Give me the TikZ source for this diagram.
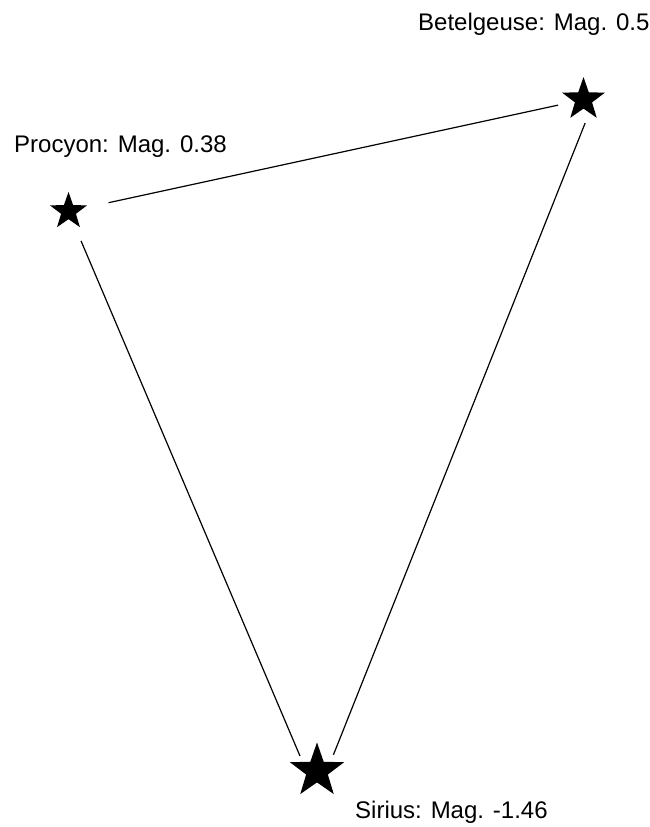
\documentclass[tikz,border=0pt]{standalone}
\usepackage{fontspec}
\setmainfont{Liberation Sans}
\usetikzlibrary{shapes.geometric}

\begin{document}
\begin{tikzpicture}[x=1pt,y=-1pt,
  starpt/.style={star,star points=5,star point ratio=2.5,fill=black,draw=none,inner sep=0pt},
  starlbl/.style={anchor=base west,inner sep=0pt,font=\fontsize{24}{28}\selectfont},
  segline/.style={line width=1.2pt,color=black}]
\useasboundingbox (0,0) rectangle (650,827);

\node[starpt,minimum size=39pt] (Procyon) at (68.5,211.4) {};
\node[starpt,minimum size=45pt] (Betelgeuse) at (583.5,99.6) {};
\node[starpt,minimum size=57pt] (Sirius) at (317,771) {};

\node[starlbl] (ProcyonLbl) at (14,152) {Procyon: Mag. 0.38};
\node[starlbl] (BetelgeuseLbl) at (418,30) {Betelgeuse: Mag. 0.5};
\node[starlbl] (SiriusLbl) at (355,818) {Sirius: Mag. -1.46};

\draw[segline,shorten <=41pt,shorten >=26pt] (Procyon.center) -- (Betelgeuse.center);
\draw[segline,shorten <=32pt,shorten >=43.5pt] (Procyon.center) -- ([yshift=-25pt]Sirius.center);
\draw[segline,shorten <=25.3pt,shorten >=44.4pt] ([xshift=11pt]Betelgeuse.center) -- ([yshift=-25pt]Sirius.center);

\end{tikzpicture}
\end{document}
